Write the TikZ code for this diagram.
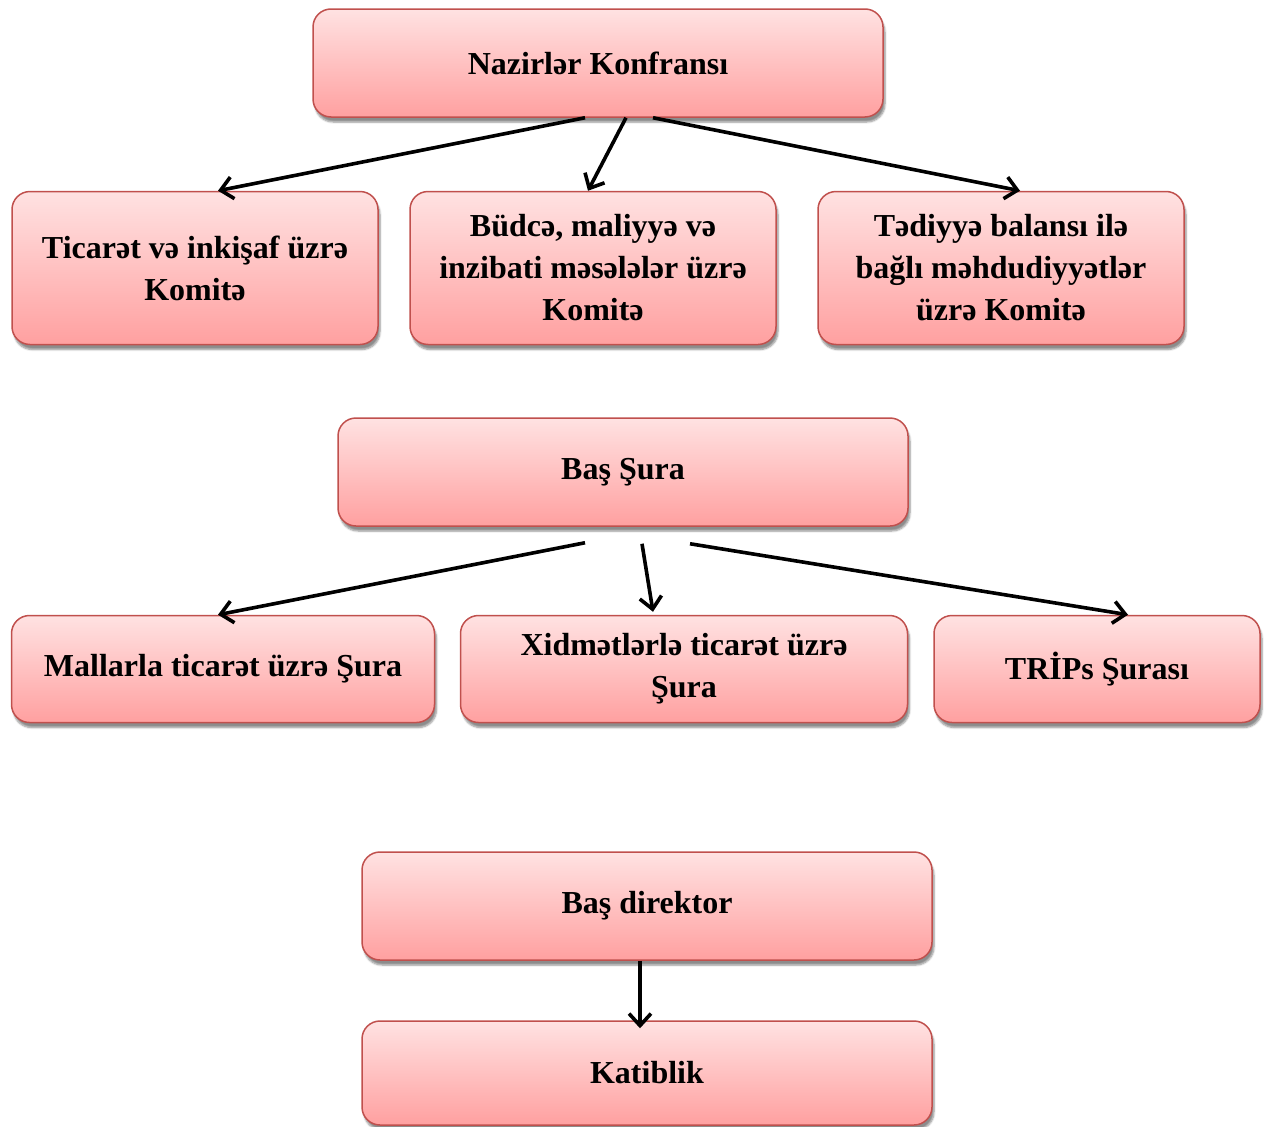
\documentclass[tikz,border=0pt]{standalone}
\usepackage{fontspec}
\setmainfont{Liberation Serif}
\usetikzlibrary{arrows.meta, positioning, shadows.blur}
\definecolor{boxtop}{RGB}{255,226,226}
\definecolor{boxbot}{RGB}{255,160,160}
\definecolor{boxline}{RGB}{192,80,77}
\tikzset{
  block/.style = {rectangle, draw=boxline, line width=1.5pt, rounded corners=18pt,
    top color=boxtop, bottom color=boxbot, minimum height=108pt, align=center,
    font=\fontsize{32}{42}\selectfont\bfseries,
    blur shadow={shadow xshift=2pt, shadow yshift=-5pt, shadow blur steps=6, shadow opacity=45}},
  arrow/.style = {line width=3.6pt, -{Straight Barb[length=12pt, width=22pt, line width=3.6pt]}}
}

\begin{document}
\begin{tikzpicture}[x=1pt, y=-1pt]
  \useasboundingbox (0,0) rectangle (1269,1127);
  % Nazirlər Konfransı
  \node[block, minimum width=570pt] (conf) at (598,63) {Nazirlər Konfransı};
  \node[block, minimum width=366pt, minimum height=153pt] (tic) at (195,268) {Ticarət və inkişaf üzrə\\Komitə};
  \node[block, minimum width=366pt, minimum height=153pt] (bud) at (593,268) {Büdcə, maliyyə və\\inzibati məsələlər üzrə\\Komitə};
  \node[block, minimum width=366pt, minimum height=153pt] (tad) at (1001,268) {Tədiyyə balansı ilə\\bağlı məhdudiyyətlər\\üzrə Komitə};

  % Baş Şura
  \node[block, minimum width=570pt] (bas) at (623,472) {Baş Şura};
  \node[block, minimum width=423pt, minimum height=107pt] (mal) at (223,669) {Mallarla ticarət üzrə Şura};
  \node[block, minimum width=447pt, minimum height=107pt] (xid) at (684,669) {Xidmətlərlə ticarət üzrə\\Şura};
  \node[block, minimum width=326pt, minimum height=107pt] (trips) at (1097,669) {TRİPs Şurası};

  % Baş direktor
  \node[block, minimum width=570pt] (dir) at (647,906) {Baş direktor};
  \node[block, minimum width=570pt, minimum height=104pt] (kat) at (647,1073) {Katiblik};

  % Verbindungen
  \draw[arrow] ([xshift=-13pt]conf.south) -- ([xshift=23pt]tic.north);
  \draw[arrow] ([xshift=28pt]conf.south) -- ([xshift=-5pt]bud.north);
  \draw[arrow] ([xshift=55pt]conf.south) -- ([xshift=19pt]tad.north);
  \draw[arrow] ([xshift=-38pt, yshift=-16pt]bas.south) -- ([xshift=-5pt]mal.north);
  \draw[arrow] ([xshift=19pt, yshift=-17pt]bas.south) -- ([xshift=-31pt, yshift=3pt]xid.north);
  \draw[arrow] ([xshift=67pt, yshift=-17pt]bas.south) -- ([xshift=31pt]trips.north);
  \draw[arrow] ([xshift=-7pt]dir.south) -- ([xshift=-7pt, yshift=-8pt]kat.north);
\end{tikzpicture}
\end{document}
